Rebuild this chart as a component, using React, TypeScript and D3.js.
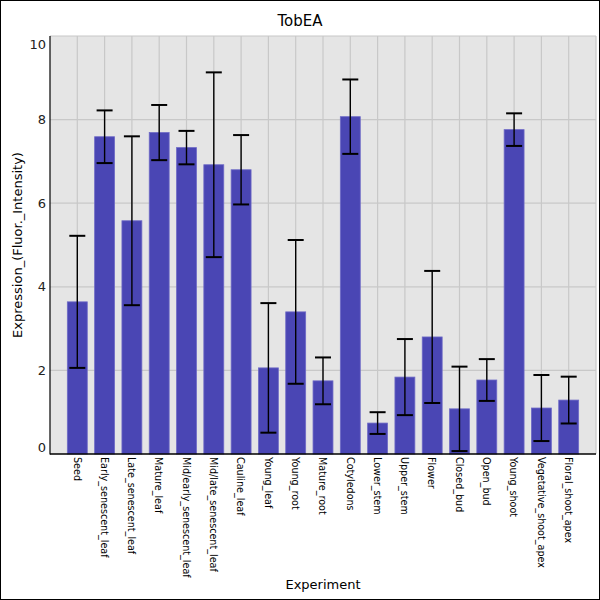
import * as d3 from "d3";

const categories = [
  "Seed",
  "Early_senescent_leaf",
  "Late_senescent_leaf",
  "Mature_leaf",
  "Mid/early_senescent_leaf",
  "Mid/late_senescent_leaf",
  "Cauline_leaf",
  "Young_leaf",
  "Young_root",
  "Mature_root",
  "Cotyledons",
  "Lower_stem",
  "Upper_stem",
  "Flower",
  "Closed_bud",
  "Open_bud",
  "Young_shoot",
  "Vegetative_shoot_apex",
  "Floral_shoot_apex",
];

// mean expression and standard deviation per experiment
const means = [
  3.64, 7.59, 5.58, 7.69, 7.33, 6.92, 6.8, 2.06, 3.4, 1.75, 8.07, 0.74, 1.84,
  2.8, 1.08, 1.77, 7.76, 1.1, 1.29,
];
const errors = [
  1.58, 0.63, 2.02, 0.66, 0.4, 2.21, 0.83, 1.55, 1.72, 0.56, 0.89, 0.26, 0.91,
  1.58, 1.01, 0.5, 0.39, 0.79, 0.56,
];

const yTicks = [0, 2, 4, 6, 8, 10];

const W = 600;
const H = 600;
const PLOT = { left: 50, right: 596, top: 36, bottom: 454 };
const FONT = "DejaVu Sans, sans-serif";

export default function App() {
  const x = d3
    .scalePoint<string>()
    .domain(categories)
    .range([PLOT.left, PLOT.right])
    .padding(1);
  const y = d3.scaleLinear().domain([0, 10]).range([PLOT.bottom, PLOT.top]);
  const barW = x.step() * 0.73;
  const capW = 16;

  return (
    <svg
      width={W}
      height={H}
      style={{ position: "absolute", left: 0, top: 0, background: "#fff" }}
    >
      <rect x={0.5} y={0.5} width={W - 1} height={H - 1} fill="#fff" stroke="#000" />

      {/* plot background + grid */}
      <rect
        x={PLOT.left}
        y={PLOT.top}
        width={PLOT.right - PLOT.left}
        height={PLOT.bottom - PLOT.top}
        fill="#e5e5e5"
      />
      {yTicks.slice(1).map((t) => (
        <line
          key={`h${t}`}
          x1={PLOT.left}
          x2={PLOT.right}
          y1={y(t)}
          y2={y(t)}
          stroke="#c8c8c8"
          strokeWidth={1.2}
        />
      ))}
      {categories.map((c) => (
        <line
          key={`v${c}`}
          x1={x(c)}
          x2={x(c)}
          y1={PLOT.top}
          y2={PLOT.bottom}
          stroke="#c8c8c8"
          strokeWidth={1.2}
        />
      ))}
      <line
        x1={PLOT.right}
        x2={PLOT.right}
        y1={PLOT.top}
        y2={PLOT.bottom}
        stroke="#c8c8c8"
        strokeWidth={1.2}
      />

      {/* bars */}
      {categories.map((c, i) => (
        <rect
          key={`b${c}`}
          x={x(c)! - barW / 2}
          y={y(means[i])}
          width={barW}
          height={y(0) - y(means[i])}
          fill="#4a46b4"
          stroke="#6e6ac6"
          strokeWidth={0.8}
        />
      ))}

      {/* error bars */}
      {categories.map((c, i) => {
        const cx = x(c)!;
        const hi = y(means[i] + errors[i]);
        const lo = y(Math.max(0, means[i] - errors[i]));
        return (
          <g key={`e${c}`} stroke="#000">
            <line x1={cx} x2={cx} y1={hi} y2={lo} strokeWidth={1.4} />
            <line x1={cx - capW / 2} x2={cx + capW / 2} y1={hi} y2={hi} strokeWidth={2} />
            <line x1={cx - capW / 2} x2={cx + capW / 2} y1={lo} y2={lo} strokeWidth={2} />
          </g>
        );
      })}

      {/* axes */}
      <line x1={PLOT.left} x2={PLOT.left} y1={PLOT.top} y2={PLOT.bottom + 0.5} stroke="#000" strokeWidth={1.2} />
      <line x1={PLOT.left} x2={PLOT.right} y1={PLOT.bottom} y2={PLOT.bottom} stroke="#000" strokeWidth={1.5} />

      {yTicks.map((t) => (
        <text
          key={`yl${t}`}
          x={46}
          y={Math.min(447, Math.max(44.5, y(t)))}
          dy="0.35em"
          textAnchor="end"
          fontFamily={FONT}
          fontSize={13}
          fill="#222"
        >
          {t}
        </text>
      ))}

      {categories.map((c) => (
        <text
          key={`xl${c}`}
          transform={`translate(${x(c)! - 3.8},${PLOT.bottom + 3}) rotate(90)`}
          fontFamily={FONT}
          fontSize={9.6}
          fill="#000"
        >
          {c}
        </text>
      ))}

      {/* titles */}
      <text x={300} y={26} textAnchor="middle" fontFamily={FONT} fontSize={15} fill="#000">
        TobEA
      </text>
      <text
        transform={`translate(22,${(PLOT.top + PLOT.bottom) / 2}) rotate(-90)`}
        textAnchor="middle"
        fontFamily={FONT}
        fontSize={13}
        fill="#000"
      >
        Expression_(Fluor._Intensity)
      </text>
      <text
        x={(PLOT.left + PLOT.right) / 2}
        y={589}
        textAnchor="middle"
        fontFamily={FONT}
        fontSize={13}
        fill="#000"
      >
        Experiment
      </text>
    </svg>
  );
}
